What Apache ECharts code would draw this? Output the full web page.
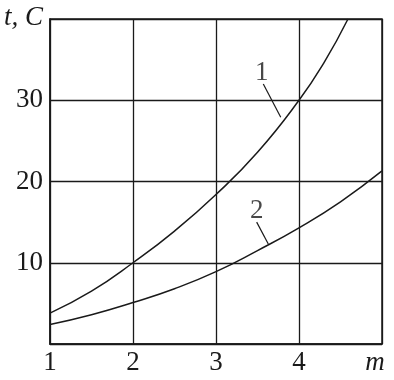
<!DOCTYPE html>
<html>
<head>
<meta charset="utf-8">
<script src="https://cdn.jsdelivr.net/npm/echarts@6/dist/echarts.min.js"></script>
<style>
html,body{margin:0;padding:0;background:#fff;}
#chart{width:394px;height:380px;}
</style>
</head>
<body>
<div id="chart"></div>
<script>
// Curve 1
const curve1X = [1, 1.5, 2, 2.5, 3, 3.5, 4, 4.3, 4.59];
const curve1Y = [3.8, 6.5, 10, 13.9, 18.4, 23.6, 30, 34.6, 40];
// Curve 2
const curve2X = [1, 1.5, 2, 2.5, 3, 3.5, 4, 4.5, 5];
const curve2Y = [2.4, 3.6, 5.1, 6.8, 8.9, 11.5, 14.3, 17.5, 21.3];
// Curve labels and leader lines (data coordinates)
const labelNames = ['1', '2'];
const labelPos = [[3.55, 33.4], [3.49, 16.4]];
const leader1 = [[3.57, 32.0], [3.78, 27.9]];
const leader2 = [[3.49, 15.0], [3.63, 12.3]];
// Axis tick labels
const xTickLabels = {1: '1', 2: '2', 3: '3', 4: '4', 5: 'm'};
const yTickLabels = {0: '', 10: '10', 20: '20', 30: '30', 40: 't, C'};

const zip = (xs, ys) => xs.map((x, i) => [x, ys[i]]);
const font = '"Liberation Serif", "DejaVu Serif", serif';
const ink = '#1a1a1a';
const fs = 27;

const chart = echarts.init(document.getElementById('chart'), null, {renderer: 'canvas'});
chart.setOption({
  animation: false,
  grid: {left: 50, right: 12, top: 19, bottom: 36, show: true, borderColor: ink, borderWidth: 1.5, backgroundColor: 'transparent'},
  xAxis: {
    type: 'value', min: 1, max: 5, interval: 1,
    axisLine: {show: true, lineStyle: {color: ink, width: 1.5}},
    axisTick: {show: false},
    splitLine: {show: true, lineStyle: {color: ink, width: 1.3}},
    axisLabel: {
      margin: 5,
      fontFamily: font, fontSize: fs, color: ink,
      formatter: v => {
        const t = xTickLabels[v];
        return v === 5 ? '{m|' + t + '}' : t;
      },
      rich: {m: {fontFamily: font, fontStyle: 'italic', fontSize: fs, color: ink, padding: [0, 14, 0, 0]}}
    }
  },
  yAxis: {
    type: 'value', min: 0, max: 40, interval: 10,
    axisLine: {show: true, lineStyle: {color: ink, width: 1.5}},
    axisTick: {show: false},
    splitLine: {show: true, lineStyle: {color: ink, width: 1.3}},
    axisLabel: {
      margin: 7,
      fontFamily: font, fontSize: fs, color: ink,
      formatter: v => {
        const t = yTickLabels[v];
        return v === 40 ? '{t|' + t + '}' : t;
      },
      rich: {t: {fontFamily: font, fontStyle: 'italic', fontSize: fs, color: ink, padding: [0, 0, 2, 0]}}
    }
  },
  series: [
    {type: 'line', data: zip(curve1X, curve1Y), smooth: 0.5, symbol: 'none', clip: true,
     lineStyle: {color: ink, width: 1.5}},
    {type: 'line', data: zip(curve2X, curve2Y), smooth: 0.5, symbol: 'none', clip: true,
     lineStyle: {color: ink, width: 1.5}},
    {type: 'line', data: leader1, symbol: 'none', lineStyle: {color: ink, width: 1.2}},
    {type: 'line', data: leader2, symbol: 'none', lineStyle: {color: ink, width: 1.2}},
    {type: 'scatter', symbolSize: 0,
     data: labelPos.map((p, i) => ({value: p, name: labelNames[i]})),
     label: {show: true, position: 'inside', formatter: p => p.name,
             fontFamily: font, fontSize: fs, color: ink}}
  ]
});
</script>
</body>
</html>
